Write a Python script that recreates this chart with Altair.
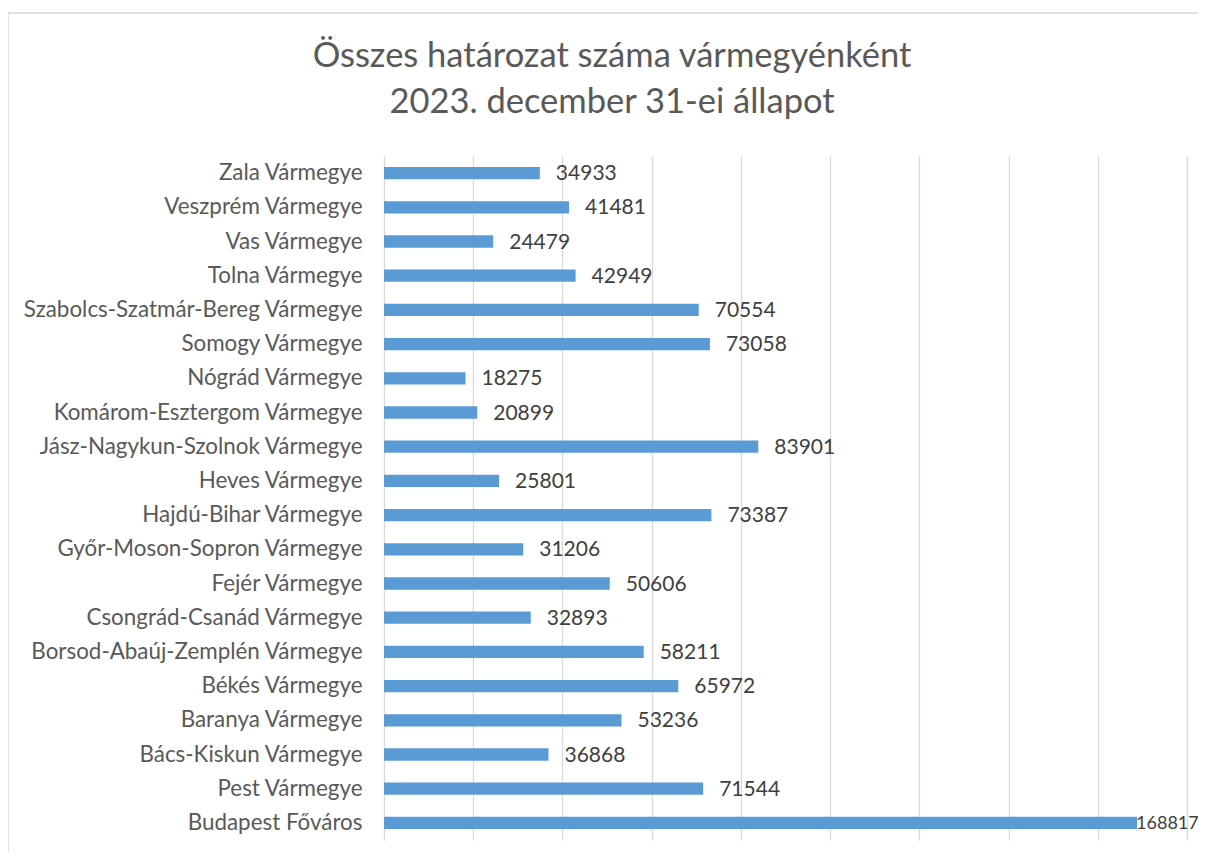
import altair as alt
import pandas as pd

title_lines = ["Összes határozat száma vármegyénként", "2023. december 31-ei állapot"]

counties = [
    "Zala Vármegye", "Veszprém Vármegye", "Vas Vármegye", "Tolna Vármegye",
    "Szabolcs-Szatmár-Bereg Vármegye", "Somogy Vármegye", "Nógrád Vármegye",
    "Komárom-Esztergom Vármegye", "Jász-Nagykun-Szolnok Vármegye", "Heves Vármegye",
    "Hajdú-Bihar Vármegye", "Győr-Moson-Sopron Vármegye", "Fejér Vármegye",
    "Csongrád-Csanád Vármegye", "Borsod-Abaúj-Zemplén Vármegye", "Békés Vármegye",
    "Baranya Vármegye", "Bács-Kiskun Vármegye", "Pest Vármegye", "Budapest Főváros",
]
values = [
    34933, 41481, 24479, 42949, 70554, 73058, 18275, 20899, 83901, 25801,
    73387, 31206, 50606, 32893, 58211, 65972, 53236, 36868, 71544, 168817,
]

df = pd.DataFrame({"county": counties, "value": values})

FONT = "Lato"
W, H = 803, 684

y_enc = alt.Y("county:N", sort=None, title=None,
              scale=alt.Scale(paddingInner=0.64, paddingOuter=0.32),
              axis=alt.Axis(ticks=False, domain=False, labelPadding=22, labelLimit=500,
                            labelFontSize=22.4, labelColor="#595959", labelFont=FONT,
                            grid=False))
x_enc = alt.X("value:Q", title=None,
              scale=alt.Scale(domain=[0, 180000], nice=False),
              axis=alt.Axis(values=list(range(0, 180001, 20000)), labels=False,
                            ticks=False, domain=False, grid=True,
                            gridColor="#d9d9d9", gridWidth=1.3))

bars = alt.Chart(df).mark_bar(color="#5b9bd5").encode(x=x_enc, y=y_enc)

label_df_main = df[df["county"] != "Budapest Főváros"]
label_df_end = df[df["county"] == "Budapest Főváros"]

labels = alt.Chart(label_df_main).mark_text(
    align="left", baseline="middle", dx=16, dy=1, fontSize=21, font=FONT, color="#404040"
).encode(x="value:Q", y=alt.Y("county:N", sort=None), text="value:Q")

labels_end = alt.Chart(label_df_end).mark_text(
    align="left", baseline="middle", dx=-1, dy=1, fontSize=18, font=FONT, color="#404040"
).encode(x="value:Q", y=alt.Y("county:N", sort=None), text="value:Q")

frame = alt.Chart(df.head(1)).mark_rect(
    fill=None, stroke="#d9d9d9", strokeWidth=1.5
).encode(x=alt.value(-376), x2=alt.value(W + 60), y=alt.value(-143), y2=alt.value(H + 60))

title_df = pd.DataFrame({"line": title_lines})
title1 = alt.Chart(title_df.iloc[[0]]).mark_text(
    align="center", baseline="alphabetic", fontSize=34.5, font=FONT, color="#595959"
).encode(x=alt.value(228), y=alt.value(-89), text="line:N")
title2 = alt.Chart(title_df.iloc[[1]]).mark_text(
    align="center", baseline="alphabetic", fontSize=34.5, font=FONT, color="#595959"
).encode(x=alt.value(228), y=alt.value(-43), text="line:N")

chart = alt.layer(frame, bars, labels, labels_end, title1, title2).properties(
    width=W, height=H,
    autosize=alt.AutoSizeParams(type="none"),
    padding={"left": 376, "top": 148, "right": 11, "bottom": 12},
).configure_view(stroke=None)

chart.save("out.html", embed_options={"renderer": "svg", "actions": False})
